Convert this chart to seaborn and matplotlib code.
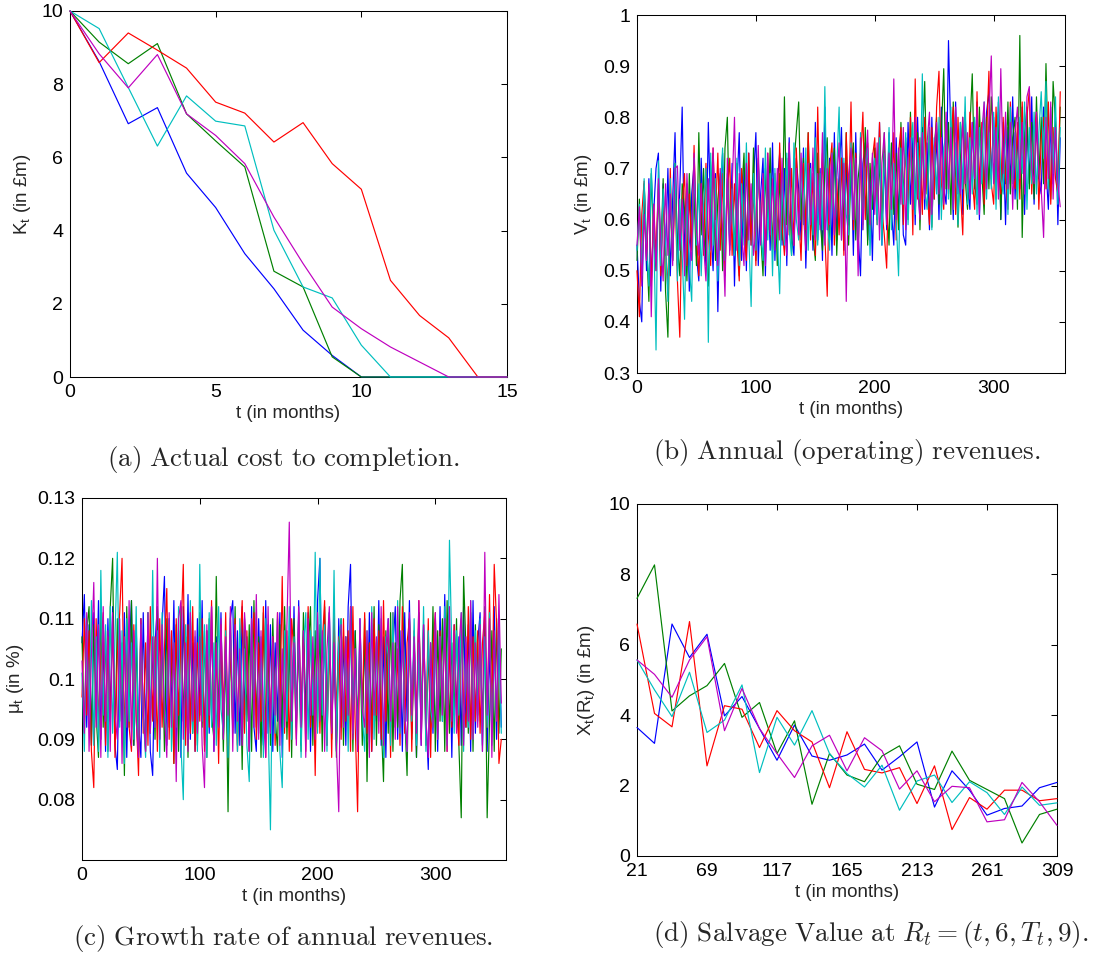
import numpy as np
import pandas as pd
import matplotlib
matplotlib.use("Agg")
import matplotlib.pyplot as plt
import seaborn as sns

# colours in MATLAB default order (b, g, r, c, m)
runs = ["blue", "green", "red", "cyan", "magenta"]
colors = ["#0000ff", "#008000", "#ff0000", "#00bfbf", "#bf00bf"]

# (a) actual cost to completion, monthly steps 0..15
months_a = list(range(16))
cost_blue = [10, 8.62, 6.92, 7.36, 5.57, 4.63, 3.37, 2.41, 1.28, 0.59, 0, 0, 0, 0, 0, 0]
cost_green = [10, 9.15, 8.56, 9.11, 7.19, 6.45, 5.74, 2.89, 2.46, 0.55, 0, 0, 0, 0, 0, 0]
cost_red = [10, 8.59, 9.40, 8.93, 8.44, 7.51, 7.21, 6.42, 6.95, 5.83, 5.13, 2.64, 1.68, 1.07, 0, 0]
cost_cyan = [10, 9.52, 7.91, 6.31, 7.68, 6.99, 6.86, 4.01, 2.46, 2.16, 0.87, 0, 0, 0, 0, 0]
cost_magenta = [10, 8.83, 7.90, 8.81, 7.19, 6.60, 5.83, 4.37, 3.10, 1.91, 1.32, 0.82, 0.41, 0, 0, 0]

# (b) annual revenues, every 2nd month from t=0
rev_blue = [
    0.55, 0.44, 0.40, 0.66, 0.50, 0.68, 0.47, 0.61, 0.70, 0.73,
    0.46, 0.67, 0.53, 0.70, 0.49, 0.64, 0.77, 0.51, 0.66, 0.82,
    0.52, 0.67, 0.46, 0.65, 0.71, 0.53, 0.48, 0.72, 0.58, 0.51,
    0.79, 0.60, 0.50, 0.69, 0.42, 0.64, 0.73, 0.52, 0.68, 0.54,
    0.71, 0.47, 0.66, 0.77, 0.52, 0.70, 0.50, 0.73, 0.55, 0.68,
    0.77, 0.51, 0.65, 0.72, 0.49, 0.69, 0.54, 0.75, 0.52, 0.67,
    0.73, 0.55, 0.70, 0.51, 0.76, 0.57, 0.53, 0.72, 0.66, 0.56,
    0.74, 0.505, 0.67, 0.71, 0.54, 0.79, 0.56, 0.70, 0.52, 0.82,
    0.58, 0.72, 0.53, 0.77, 0.56, 0.69, 0.78, 0.54, 0.71, 0.59,
    0.73, 0.53, 0.77, 0.57, 0.49, 0.71, 0.75, 0.56, 0.69, 0.52,
    0.74, 0.60, 0.79, 0.55, 0.72, 0.58, 0.77, 0.62, 0.55, 0.76,
    0.60, 0.74, 0.57, 0.55, 0.79, 0.63, 0.76, 0.59, 0.80, 0.65,
    0.78, 0.62, 0.75, 0.58, 0.80, 0.64, 0.77, 0.60, 0.82, 0.66,
    0.63, 0.95, 0.76, 0.60, 0.83, 0.65, 0.79, 0.61, 0.81, 0.67,
    0.62, 0.79, 0.66, 0.83, 0.60, 0.77, 0.64, 0.81, 0.85, 0.68,
    0.80, 0.65, 0.83, 0.60, 0.76, 0.59, 0.78, 0.67, 0.84, 0.64,
    0.77, 0.66, 0.82, 0.61, 0.79, 0.67, 0.84, 0.63, 0.80, 0.68,
    0.65, 0.82, 0.70, 0.62, 0.79, 0.67, 0.80, 0.59, 0.76]
rev_green = [
    0.52, 0.64, 0.48, 0.67, 0.55, 0.44, 0.69, 0.57, 0.50, 0.66,
    0.53, 0.68, 0.46, 0.37, 0.65, 0.52, 0.71, 0.55, 0.49, 0.67,
    0.62, 0.48, 0.69, 0.54, 0.65, 0.51, 0.77, 0.57, 0.70, 0.53,
    0.47, 0.66, 0.73, 0.52, 0.64, 0.69, 0.50, 0.74, 0.80, 0.55,
    0.67, 0.53, 0.71, 0.49, 0.65, 0.73, 0.54, 0.68, 0.56, 0.74,
    0.52, 0.72, 0.57, 0.49, 0.70, 0.58, 0.74, 0.54, 0.67, 0.51,
    0.69, 0.56, 0.84, 0.59, 0.73, 0.53, 0.71, 0.77, 0.83, 0.60,
    0.72, 0.55, 0.77, 0.61, 0.57, 0.52, 0.73, 0.60, 0.54, 0.70,
    0.76, 0.56, 0.69, 0.74, 0.53, 0.67, 0.72, 0.58, 0.77, 0.55,
    0.70, 0.75, 0.56, 0.68, 0.73, 0.59, 0.78, 0.55, 0.71, 0.62,
    0.74, 0.60, 0.72, 0.57, 0.77, 0.63, 0.55, 0.75, 0.61, 0.73,
    0.58, 0.79, 0.64, 0.76, 0.60, 0.81, 0.66, 0.62, 0.77, 0.58,
    0.75, 0.87, 0.65, 0.78, 0.585, 0.74, 0.80, 0.63, 0.77, 0.895,
    0.66, 0.79, 0.61, 0.83, 0.69, 0.585, 0.72, 0.80, 0.68, 0.62,
    0.78, 0.885, 0.67, 0.63, 0.82, 0.69, 0.61, 0.80, 0.66, 0.84,
    0.77, 0.64, 0.81, 0.60, 0.79, 0.67, 0.83, 0.65, 0.76, 0.80,
    0.62, 0.96, 0.565, 0.77, 0.82, 0.66, 0.79, 0.64, 0.84, 0.68,
    0.80, 0.67, 0.905, 0.71, 0.64, 0.87, 0.79, 0.66, 0.82]
rev_red = [
    0.50, 0.41, 0.61, 0.675, 0.52, 0.65, 0.47, 0.63, 0.53, 0.67,
    0.49, 0.64, 0.55, 0.46, 0.70, 0.52, 0.66, 0.48, 0.37, 0.63,
    0.69, 0.51, 0.65, 0.54, 0.745, 0.57, 0.49, 0.67, 0.53, 0.71,
    0.57, 0.51, 0.74, 0.60, 0.73, 0.54, 0.69, 0.49, 0.65, 0.72,
    0.53, 0.67, 0.56, 0.48, 0.70, 0.58, 0.52, 0.73, 0.55, 0.66,
    0.51, 0.71, 0.57, 0.68, 0.53, 0.73, 0.58, 0.54, 0.69, 0.56,
    0.75, 0.59, 0.53, 0.72, 0.57, 0.70, 0.55, 0.74, 0.61, 0.52,
    0.71, 0.58, 0.77, 0.56, 0.69, 0.53, 0.82, 0.59, 0.73, 0.57,
    0.45, 0.70, 0.75, 0.55, 0.68, 0.57, 0.72, 0.53, 0.77, 0.61,
    0.83, 0.58, 0.73, 0.54, 0.71, 0.81, 0.60, 0.75, 0.56, 0.72,
    0.76, 0.59, 0.79, 0.62, 0.57, 0.505, 0.74, 0.60, 0.77, 0.56,
    0.73, 0.78, 0.59, 0.75, 0.62, 0.80, 0.57, 0.875, 0.64, 0.76,
    0.61, 0.80, 0.66, 0.59, 0.78, 0.64, 0.82, 0.89, 0.67, 0.62,
    0.79, 0.65, 0.76, 0.82, 0.61, 0.80, 0.66, 0.57, 0.78, 0.64,
    0.81, 0.68, 0.62, 0.85, 0.66, 0.79, 0.63, 0.76, 0.89, 0.67,
    0.63, 0.82, 0.70, 0.65, 0.80, 0.68, 0.62, 0.83, 0.69, 0.66,
    0.79, 0.64, 0.83, 0.67, 0.80, 0.855, 0.65, 0.77, 0.81, 0.62,
    0.76, 0.80, 0.66, 0.83, 0.63, 0.78, 0.68, 0.65, 0.85]
rev_cyan = [
    0.54, 0.63, 0.49, 0.68, 0.55, 0.47, 0.70, 0.59, 0.345, 0.715,
    0.51, 0.66, 0.55, 0.44, 0.68, 0.52, 0.71, 0.48, 0.64, 0.53,
    0.405, 0.66, 0.51, 0.44, 0.72, 0.55, 0.67, 0.49, 0.63, 0.70,
    0.36, 0.73, 0.55, 0.68, 0.48, 0.65, 0.74, 0.52, 0.69, 0.56,
    0.66, 0.53, 0.72, 0.51, 0.67, 0.55, 0.75, 0.57, 0.43, 0.69,
    0.54, 0.71, 0.58, 0.52, 0.74, 0.56, 0.69, 0.49, 0.70, 0.57,
    0.455, 0.69, 0.55, 0.73, 0.58, 0.53, 0.75, 0.60, 0.56, 0.71,
    0.59, 0.74, 0.54, 0.70, 0.57, 0.76, 0.55, 0.69, 0.58, 0.86,
    0.60, 0.54, 0.73, 0.59, 0.70, 0.82, 0.56, 0.72, 0.61, 0.57,
    0.75, 0.60, 0.71, 0.55, 0.77, 0.58, 0.70, 0.74, 0.53, 0.69,
    0.72, 0.59, 0.76, 0.55, 0.73, 0.62, 0.78, 0.58, 0.71, 0.60,
    0.49, 0.74, 0.63, 0.77, 0.59, 0.72, 0.79, 0.61, 0.75, 0.64,
    0.885, 0.66, 0.62, 0.78, 0.58, 0.76, 0.65, 0.80, 0.60, 0.74,
    0.77, 0.64, 0.82, 0.62, 0.75, 0.59, 0.79, 0.66, 0.84, 0.63,
    0.76, 0.65, 0.80, 0.61, 0.78, 0.67, 0.83, 0.64, 0.77, 0.66,
    0.81, 0.62, 0.84, 0.68, 0.65, 0.79, 0.61, 0.82, 0.67, 0.77,
    0.64, 0.80, 0.69, 0.83, 0.62, 0.78, 0.67, 0.81, 0.65, 0.77,
    0.85, 0.72, 0.87, 0.66, 0.82, 0.69, 0.84, 0.63, 0.78]
rev_magenta = [
    0.55, 0.625, 0.47, 0.61, 0.52, 0.67, 0.41, 0.63, 0.50, 0.68,
    0.56, 0.48, 0.67, 0.53, 0.65, 0.51, 0.70, 0.705, 0.54, 0.64,
    0.49, 0.69, 0.56, 0.52, 0.73, 0.58, 0.53, 0.67, 0.55, 0.48,
    0.68, 0.54, 0.74, 0.57, 0.51, 0.70, 0.58, 0.45, 0.72, 0.53,
    0.66, 0.80, 0.54, 0.69, 0.57, 0.51, 0.71, 0.56, 0.67, 0.53,
    0.58, 0.745, 0.55, 0.69, 0.51, 0.73, 0.57, 0.68, 0.54, 0.70,
    0.56, 0.72, 0.59, 0.53, 0.75, 0.60, 0.55, 0.70, 0.57, 0.73,
    0.61, 0.54, 0.71, 0.59, 0.74, 0.56, 0.69, 0.58, 0.77, 0.55,
    0.70, 0.59, 0.73, 0.57, 0.68, 0.75, 0.56, 0.71, 0.44, 0.69,
    0.74, 0.60, 0.72, 0.49, 0.76, 0.58, 0.70, 0.775, 0.59, 0.73,
    0.61, 0.75, 0.56, 0.71, 0.77, 0.59, 0.73, 0.62, 0.875, 0.60,
    0.74, 0.63, 0.78, 0.58, 0.72, 0.76, 0.62, 0.80, 0.66, 0.60,
    0.77, 0.64, 0.75, 0.81, 0.61, 0.74, 0.79, 0.65, 0.76, 0.63,
    0.81, 0.66, 0.78, 0.62, 0.82, 0.68, 0.65, 0.80, 0.67, 0.77,
    0.64, 0.79, 0.68, 0.82, 0.61, 0.77, 0.83, 0.66, 0.80, 0.92,
    0.67, 0.78, 0.64, 0.895, 0.69, 0.81, 0.66, 0.79, 0.62, 0.77,
    0.82, 0.68, 0.79, 0.65, 0.84, 0.86, 0.70, 0.67, 0.81, 0.69,
    0.66, 0.565, 0.80, 0.68, 0.83, 0.64, 0.78, 0.67, 0.625]

# (c) growth rate of revenues, every 2nd month from t=0
mu_blue = [
    0.106, 0.114, 0.092, 0.109, 0.089, 0.111, 0.095, 0.113, 0.090, 0.106,
    0.088, 0.110, 0.094, 0.112, 0.089, 0.085, 0.108, 0.091, 0.111, 0.087,
    0.104, 0.113, 0.089, 0.109, 0.093, 0.087, 0.111, 0.091, 0.107, 0.088,
    0.084, 0.106, 0.112, 0.090, 0.109, 0.117, 0.089, 0.110, 0.094, 0.113,
    0.089, 0.108, 0.087, 0.112, 0.092, 0.114, 0.090, 0.106, 0.088, 0.110,
    0.094, 0.113, 0.089, 0.108, 0.091, 0.112, 0.088, 0.107, 0.093, 0.111,
    0.090, 0.106, 0.087, 0.110, 0.113, 0.091, 0.108, 0.089, 0.112, 0.094,
    0.107, 0.088, 0.112, 0.092, 0.088, 0.110, 0.095, 0.089, 0.113, 0.091,
    0.109, 0.088, 0.106, 0.093, 0.111, 0.087, 0.109, 0.092, 0.107, 0.090,
    0.112, 0.092, 0.113, 0.089, 0.108, 0.094, 0.111, 0.088, 0.105, 0.091,
    0.113, 0.120, 0.093, 0.109, 0.089, 0.111, 0.091, 0.106, 0.088, 0.110,
    0.092, 0.107, 0.089, 0.112, 0.119, 0.091, 0.108, 0.088, 0.110, 0.094,
    0.107, 0.090, 0.111, 0.088, 0.109, 0.093, 0.113, 0.089, 0.107, 0.087,
    0.110, 0.092, 0.105, 0.112, 0.090, 0.108, 0.088, 0.111, 0.093, 0.113,
    0.091, 0.107, 0.087, 0.111, 0.089, 0.109, 0.094, 0.085, 0.106, 0.091,
    0.110, 0.088, 0.112, 0.093, 0.114, 0.090, 0.108, 0.087, 0.109, 0.094,
    0.107, 0.089, 0.112, 0.092, 0.109, 0.088, 0.113, 0.091, 0.106, 0.111,
    0.089, 0.109, 0.088, 0.105, 0.092, 0.112, 0.090, 0.108, 0.092]
mu_green = [
    0.107, 0.091, 0.108, 0.112, 0.089, 0.109, 0.094, 0.087, 0.111, 0.092,
    0.108, 0.088, 0.112, 0.120, 0.090, 0.110, 0.093, 0.106, 0.084, 0.112,
    0.092, 0.113, 0.089, 0.107, 0.087, 0.110, 0.094, 0.088, 0.111, 0.091,
    0.106, 0.090, 0.112, 0.093, 0.108, 0.088, 0.110, 0.092, 0.105, 0.086,
    0.109, 0.088, 0.112, 0.093, 0.107, 0.087, 0.110, 0.091, 0.106, 0.089,
    0.111, 0.092, 0.108, 0.087, 0.110, 0.094, 0.090, 0.117, 0.093, 0.107,
    0.088, 0.105, 0.078, 0.108, 0.091, 0.112, 0.089, 0.106, 0.085, 0.110,
    0.093, 0.109, 0.088, 0.113, 0.092, 0.107, 0.087, 0.111, 0.091, 0.105,
    0.089, 0.110, 0.094, 0.088, 0.109, 0.092, 0.112, 0.090, 0.107, 0.087,
    0.110, 0.093, 0.106, 0.088, 0.111, 0.091, 0.104, 0.112, 0.089, 0.108,
    0.092, 0.109, 0.088, 0.112, 0.094, 0.107, 0.090, 0.110, 0.087, 0.105,
    0.110, 0.089, 0.107, 0.093, 0.112, 0.088, 0.108, 0.092, 0.105, 0.089,
    0.110, 0.083, 0.106, 0.091, 0.112, 0.089, 0.109, 0.093, 0.083, 0.108,
    0.091, 0.111, 0.088, 0.106, 0.092, 0.113, 0.119, 0.094, 0.084, 0.110,
    0.090, 0.107, 0.087, 0.111, 0.094, 0.109, 0.089, 0.105, 0.092, 0.112,
    0.088, 0.108, 0.093, 0.110, 0.088, 0.113, 0.091, 0.106, 0.094, 0.110,
    0.089, 0.077, 0.117, 0.105, 0.091, 0.111, 0.088, 0.109, 0.094, 0.107,
    0.092, 0.112, 0.077, 0.093, 0.108, 0.088, 0.110, 0.091, 0.105]
mu_red = [
    0.097, 0.110, 0.094, 0.108, 0.088, 0.082, 0.110, 0.092, 0.105, 0.111,
    0.089, 0.107, 0.093, 0.110, 0.087, 0.104, 0.111, 0.120, 0.090, 0.106,
    0.092, 0.088, 0.109, 0.094, 0.084, 0.110, 0.091, 0.106, 0.089, 0.112,
    0.093, 0.107, 0.088, 0.110, 0.092, 0.105, 0.115, 0.090, 0.108, 0.086,
    0.110, 0.094, 0.107, 0.119, 0.089, 0.109, 0.091, 0.112, 0.088, 0.106,
    0.093, 0.110, 0.088, 0.108, 0.092, 0.113, 0.090, 0.105, 0.086, 0.109,
    0.094, 0.111, 0.089, 0.107, 0.092, 0.110, 0.088, 0.104, 0.113, 0.091,
    0.108, 0.088, 0.105, 0.111, 0.090, 0.106, 0.093, 0.112, 0.087, 0.109,
    0.092, 0.107, 0.089, 0.111, 0.094, 0.117, 0.091, 0.108, 0.088, 0.110,
    0.104, 0.090, 0.111, 0.093, 0.107, 0.088, 0.112, 0.092, 0.105, 0.084,
    0.109, 0.091, 0.106, 0.113, 0.089, 0.108, 0.087, 0.111, 0.094, 0.107,
    0.090, 0.110, 0.093, 0.108, 0.088, 0.112, 0.092, 0.078, 0.107, 0.095,
    0.111, 0.091, 0.106, 0.088, 0.110, 0.094, 0.108, 0.090, 0.113, 0.093,
    0.107, 0.087, 0.111, 0.092, 0.105, 0.089, 0.112, 0.091, 0.106, 0.110,
    0.088, 0.108, 0.093, 0.113, 0.090, 0.107, 0.092, 0.110, 0.087, 0.105,
    0.111, 0.091, 0.108, 0.094, 0.110, 0.088, 0.106, 0.092, 0.109, 0.095,
    0.089, 0.110, 0.096, 0.092, 0.112, 0.090, 0.107, 0.093, 0.108, 0.091,
    0.106, 0.111, 0.092, 0.114, 0.094, 0.119, 0.109, 0.086, 0.090]
mu_cyan = [
    0.101, 0.088, 0.110, 0.092, 0.113, 0.089, 0.107, 0.088, 0.118, 0.094,
    0.109, 0.087, 0.112, 0.091, 0.107, 0.121, 0.092, 0.108, 0.086, 0.110,
    0.093, 0.106, 0.090, 0.112, 0.088, 0.109, 0.094, 0.087, 0.111, 0.091,
    0.118, 0.092, 0.108, 0.087, 0.111, 0.095, 0.090, 0.110, 0.088, 0.106,
    0.092, 0.112, 0.089, 0.080, 0.109, 0.094, 0.113, 0.091, 0.107, 0.088,
    0.119, 0.093, 0.109, 0.087, 0.111, 0.092, 0.106, 0.089, 0.112, 0.095,
    0.091, 0.108, 0.087, 0.111, 0.094, 0.107, 0.088, 0.110, 0.093, 0.105,
    0.089, 0.083, 0.109, 0.094, 0.111, 0.091, 0.107, 0.087, 0.110, 0.093,
    0.075, 0.106, 0.091, 0.110, 0.088, 0.082, 0.108, 0.093, 0.112, 0.090,
    0.107, 0.092, 0.110, 0.087, 0.105, 0.111, 0.090, 0.108, 0.094, 0.121,
    0.091, 0.120, 0.094, 0.109, 0.088, 0.111, 0.092, 0.118, 0.089, 0.106,
    0.110, 0.093, 0.107, 0.088, 0.111, 0.091, 0.105, 0.089, 0.109, 0.094,
    0.088, 0.108, 0.092, 0.112, 0.090, 0.106, 0.093, 0.110, 0.087, 0.107,
    0.104, 0.089, 0.111, 0.092, 0.113, 0.091, 0.107, 0.094, 0.088, 0.109,
    0.093, 0.110, 0.089, 0.106, 0.091, 0.112, 0.088, 0.108, 0.095, 0.092,
    0.109, 0.090, 0.107, 0.093, 0.112, 0.089, 0.123, 0.105, 0.091, 0.108,
    0.094, 0.111, 0.088, 0.106, 0.092, 0.113, 0.090, 0.108, 0.093, 0.110,
    0.088, 0.107, 0.092, 0.111, 0.089, 0.105, 0.094, 0.109, 0.091]
mu_magenta = [
    0.103, 0.091, 0.111, 0.088, 0.104, 0.116, 0.092, 0.109, 0.087, 0.112,
    0.093, 0.108, 0.088, 0.111, 0.094, 0.090, 0.110, 0.086, 0.107, 0.092,
    0.113, 0.089, 0.108, 0.093, 0.087, 0.110, 0.095, 0.088, 0.111, 0.091,
    0.107, 0.092, 0.120, 0.090, 0.109, 0.094, 0.087, 0.111, 0.092, 0.106,
    0.083, 0.110, 0.113, 0.090, 0.106, 0.088, 0.111, 0.093, 0.108, 0.091,
    0.107, 0.089, 0.082, 0.109, 0.094, 0.112, 0.088, 0.106, 0.092, 0.110,
    0.090, 0.107, 0.094, 0.112, 0.088, 0.109, 0.093, 0.105, 0.089, 0.111,
    0.104, 0.088, 0.110, 0.092, 0.114, 0.090, 0.108, 0.094, 0.087, 0.112,
    0.091, 0.107, 0.094, 0.111, 0.089, 0.105, 0.092, 0.109, 0.126, 0.093,
    0.106, 0.089, 0.112, 0.092, 0.108, 0.087, 0.110, 0.094, 0.107, 0.090,
    0.111, 0.093, 0.108, 0.088, 0.105, 0.112, 0.091, 0.106, 0.089, 0.078,
    0.109, 0.092, 0.107, 0.094, 0.112, 0.090, 0.105, 0.088, 0.110, 0.095,
    0.092, 0.108, 0.087, 0.111, 0.094, 0.107, 0.091, 0.112, 0.089, 0.105,
    0.110, 0.093, 0.106, 0.090, 0.112, 0.092, 0.108, 0.095, 0.088, 0.111,
    0.094, 0.107, 0.091, 0.113, 0.089, 0.109, 0.093, 0.087, 0.106, 0.092,
    0.111, 0.090, 0.107, 0.094, 0.110, 0.088, 0.112, 0.093, 0.108, 0.091,
    0.105, 0.111, 0.089, 0.107, 0.093, 0.113, 0.090, 0.106, 0.092, 0.109,
    0.088, 0.121, 0.094, 0.110, 0.087, 0.108, 0.093, 0.114, 0.096]

# (d) salvage value, yearly from t=21 to 309
months_d = list(range(21, 310, 12))
salv_blue = [3.65, 3.20, 6.59, 5.64, 6.30, 3.98, 4.53, 3.62, 2.72, 3.72, 2.84, 2.72, 2.87,
             3.18, 2.44, 2.82, 3.24, 1.39, 2.42, 1.87, 1.16, 1.35, 1.42, 1.94, 2.09]
salv_green = [7.32, 8.27, 4.12, 4.55, 4.84, 5.47, 3.94, 4.36, 2.91, 3.84, 1.47, 2.91, 2.30,
              2.11, 2.84, 3.13, 2.04, 1.89, 2.98, 2.15, 1.89, 1.63, 0.37, 1.18, 1.33]
salv_red = [6.59, 4.05, 3.67, 6.66, 2.56, 4.27, 4.17, 3.08, 4.13, 3.56, 3.24, 1.94, 3.53,
            2.46, 2.36, 2.51, 1.49, 2.56, 0.75, 1.66, 1.33, 1.87, 1.87, 1.57, 1.63]
salv_cyan = [5.57, 4.72, 3.96, 5.22, 3.51, 3.86, 4.86, 2.37, 3.94, 3.15, 4.13, 2.91, 2.34,
             1.96, 2.58, 1.30, 2.13, 2.30, 1.52, 2.11, 1.80, 1.18, 1.96, 1.44, 1.51]
salv_magenta = [5.57, 5.16, 4.51, 5.57, 6.23, 3.56, 4.76, 3.62, 2.91, 2.23, 3.13, 3.43, 2.42,
                3.36, 2.99, 1.90, 2.42, 1.54, 1.98, 1.94, 0.97, 1.03, 2.09, 1.54, 0.87]


def long_frame(x, series):
    parts = []
    for name, vals in zip(runs, series):
        xs = x if x is not None else list(range(0, 2 * len(vals), 2))
        parts.append(pd.DataFrame({"t": xs[:len(vals)], "v": vals, "run": name}))
    return pd.concat(parts, ignore_index=True)


sns.set_style("white")
plt.rcParams["font.family"] = ["Liberation Sans", "DejaVu Sans"]
plt.rcParams["mathtext.fontset"] = "custom"
plt.rcParams["mathtext.rm"] = "Liberation Sans"
plt.rcParams["mathtext.it"] = "Liberation Sans:italic"
plt.rcParams["mathtext.bf"] = "Liberation Sans:bold"

W, H = 1115, 958
fig = plt.figure(figsize=(W / 100, H / 100), dpi=100)


def box(l, t, r, b):
    return [l / W, 1 - b / H, (r - l) / W, (b - t) / H]


def style(ax):
    for s in ax.spines.values():
        s.set_linewidth(0.75)
        s.set_color("black")
        s.set_zorder(1)
    ax.tick_params(direction="in", length=4, width=0.75, top=True, right=True,
                   labelsize=14, pad=5, colors="black")
    ax.xaxis.label.set_size(13.5)
    ax.yaxis.label.set_size(13.5)


panels = [
    (box(70, 11, 507, 377), long_frame(months_a, [cost_blue, cost_green, cost_red, cost_cyan, cost_magenta])),
    (box(637, 15, 1065, 373), long_frame(None, [rev_blue, rev_green, rev_red, rev_cyan, rev_magenta])),
    (box(82, 498, 506, 860), long_frame(None, [mu_blue, mu_green, mu_red, mu_cyan, mu_magenta])),
    (box(637, 504, 1057, 856), long_frame(months_d, [salv_blue, salv_green, salv_red, salv_cyan, salv_magenta])),
]

axes = []
for pos, df in panels:
    ax = fig.add_axes(pos)
    sns.lineplot(data=df, x="t", y="v", hue="run", hue_order=runs, palette=colors,
                 estimator=None, sort=False, legend=False, linewidth=0.85, ax=ax,
                 zorder=3, clip_on=False)
    style(ax)
    axes.append(ax)

ax_a, ax_b, ax_c, ax_d = axes

ax_a.set_xlim(0, 15)
ax_a.set_ylim(0, 10)
ax_a.set_xticks([0, 5, 10, 15])
ax_a.set_yticks([0, 2, 4, 6, 8, 10])
ax_a.set_xlabel("t (in months)", labelpad=3)
ax_a.set_ylabel(r"K$_\mathrm{t}$ (in £m)", labelpad=6)

ax_b.set_xlim(0, 360)
ax_b.set_ylim(0.3, 1)
ax_b.set_xticks([0, 100, 200, 300])
ax_b.set_yticks([0.3, 0.4, 0.5, 0.6, 0.7, 0.8, 0.9, 1])
ax_b.set_yticklabels(["0.3", "0.4", "0.5", "0.6", "0.7", "0.8", "0.9", "1"])
ax_b.set_xlabel("t (in months)", labelpad=3)
ax_b.set_ylabel(r"V$_\mathrm{t}$ (in £m)", labelpad=6)

ax_c.set_xlim(0, 360)
ax_c.set_ylim(0.07, 0.13)
ax_c.set_xticks([0, 100, 200, 300])
ax_c.set_yticks([0.08, 0.09, 0.1, 0.11, 0.12, 0.13])
ax_c.set_yticklabels(["0.08", "0.09", "0.1", "0.11", "0.12", "0.13"])
ax_c.set_xlabel("t (in months)", labelpad=3)
ax_c.set_ylabel(r"μ$_\mathrm{t}$ (in %)", labelpad=8)

ax_d.set_xlim(21, 309)
ax_d.set_ylim(0, 10)
ax_d.set_xticks([21, 69, 117, 165, 213, 261, 309])
ax_d.set_yticks([0, 2, 4, 6, 8, 10])
ax_d.set_xlabel("t (in months)", labelpad=3)
ax_d.set_ylabel(r"X$_\mathrm{t}$(R$_\mathrm{t}$) (in £m)", labelpad=8)

cap = dict(ha="center", va="center", fontsize=19.5, math_fontfamily="cm")
fig.text(283 / W, 1 - 460 / H, r"$\mathrm{(a)\ Actual\ cost\ to\ completion.}$", **cap)
fig.text(847 / W, 1 - 453 / H, r"$\mathrm{(b)\ Annual\ (operating)\ revenues.}$", **cap)
fig.text(283 / W, 1 - 938 / H, r"$\mathrm{(c)\ Growth\ rate\ of\ annual\ revenues.}$", **cap)
fig.text(871 / W, 1 - 935 / H, r"$\mathrm{(d)\ Salvage\ Value\ at\ }R_t=(t,6,T_t,9).$", **cap)

fig.savefig("out.png", dpi=100, facecolor="white")
